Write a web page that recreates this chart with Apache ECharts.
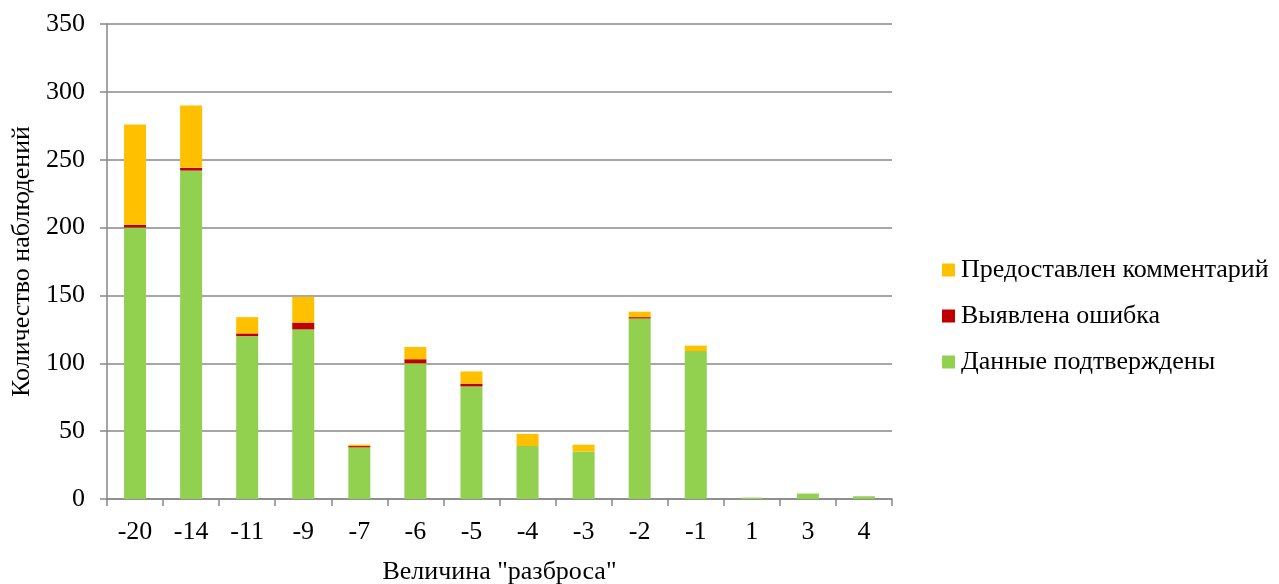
<!DOCTYPE html>
<html><head><meta charset="utf-8">
<script src="https://cdn.jsdelivr.net/npm/echarts@6/dist/echarts.min.js"></script>
<style>html,body{margin:0;padding:0;background:#fff}#c{width:1279px;height:584px}</style>
</head><body><div id="c"></div>
<script>
const categories = ['-20','-14','-11','-9','-7','-6','-5','-4','-3','-2','-1','1','3','4'];
const confirmed = [200, 242, 120, 125, 38, 100, 83, 39, 35, 133, 109, 1, 4, 2];
const errors    = [2, 2, 2, 5, 1, 3, 2, 0, 0, 1, 0, 0, 0, 0];
const comments  = [74, 46, 12, 19, 1, 9, 9, 9, 5, 4, 4, 0, 0, 0];
const yTicks = [0, 50, 100, 150, 200, 250, 300, 350];

const font = 'Liberation Serif';
const fs = 26;
const chart = echarts.init(document.getElementById('c'));
const bar = (name, data, color) => ({
  name, type: 'bar', stack: 's', data, barWidth: 22,
  itemStyle: { color }, emphasis: { disabled: true }
});
chart.setOption({
  animation: false,
  textStyle: { fontFamily: font },
  grid: { left: 107, right: 387, top: 24, bottom: 85, outerBoundsMode: 'none', containLabel: false },
  legend: {
    orient: 'vertical', left: 937, top: 252,
    itemWidth: 13, itemHeight: 13, itemGap: 20,
    icon: 'rect',
    textStyle: { fontFamily: font, fontSize: fs, color: '#000', padding: [0, 0, 0, 1] },
    data: ['Предоставлен комментарий', 'Выявлена ошибка', 'Данные подтверждены']
  },
  xAxis: {
    type: 'category', data: categories,
    name: 'Величина "разброса"', nameLocation: 'middle', nameGap: 60,
    nameTextStyle: { fontFamily: font, fontSize: fs, color: '#000' },
    axisLine: { lineStyle: { color: '#888', width: 1.5 } },
    axisTick: { show: true, length: 7, lineStyle: { color: '#888', width: 1.5 } },
    axisLabel: { fontFamily: font, fontSize: fs, color: '#000', margin: 20 }
  },
  yAxis: {
    type: 'value', min: yTicks[0], max: yTicks[yTicks.length-1], interval: 50,
    name: 'Количество наблюдений', nameLocation: 'middle', nameGap: 72,
    nameTextStyle: { fontFamily: font, fontSize: fs, color: '#000' },
    axisLine: { show: true, lineStyle: { color: '#888', width: 1.5 } },
    axisTick: { show: true, length: 7, lineStyle: { color: '#888', width: 1.5 } },
    axisLabel: { fontFamily: font, fontSize: fs, color: '#000', margin: 22 },
    splitLine: { lineStyle: { color: '#888', width: 1.5 } }
  },
  series: [
    bar('Данные подтверждены', confirmed, '#92D050'),
    bar('Выявлена ошибка', errors, '#C00000'),
    bar('Предоставлен комментарий', comments, '#FFC000')
  ]
});
</script></body></html>
